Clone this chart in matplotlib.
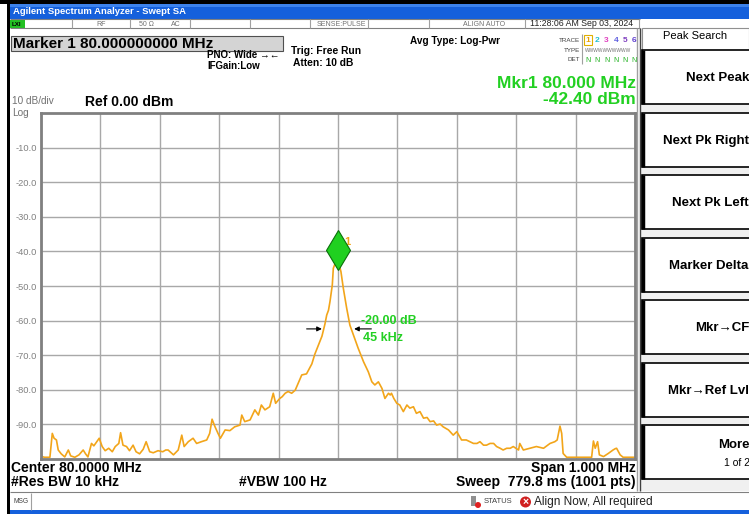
import matplotlib
matplotlib.use("Agg")
import matplotlib.pyplot as plt
from matplotlib.patches import Rectangle, Circle
from matplotlib import transforms
import numpy as np

plt.rcParams['font.family'] = ['Liberation Sans', 'DejaVu Sans']

# ---------------- data ----------------
center_mhz = 80.0
span_mhz = 1.0
ref_level = 0.0
db_per_div = 10.0
ytick_values = [-10, -20, -30, -40, -50, -60, -70, -80, -90]
ytick_labels = ["-10.0", "-20.0", "-30.0", "-40.0", "-50.0", "-60.0", "-70.0", "-80.0", "-90.0"]

offset_khz = [-500, -499, -494, -485, -481, -478, -474, -471, -466, -460, -454, -450, -443, -436,
              -429, -425, -421, -415, -411, -406, -402, -397, -392, -386, -380, -375, -369, -366,
              -362, -356, -351, -345, -340, -334, -328, -323, -317, -311, -303, -295, -290, -286,
              -277, -269, -263, -259, -252, -244, -238, -230, -221, -216, -212, -207, -202, -198,
              -190, -182, -174, -165, -162, -157, -148, -140, -134, -129, -123, -115, -109, -105,
              -98, -94, -89, -84, -78, -72, -67, -61, -53, -47, -44, -39, -33, -27, -22, -19, -16,
              -13.5, -9.6, -7.9, -3, 0, 5, 9, 14.6, 20, 26, 34, 43, 51, 57, 62, 68, 74, 79, 85, 88,
              90, 94, 99, 104, 110, 116, 121, 127, 132, 138, 144, 150, 155, 161, 166, 172, 177, 186,
              194, 200, 208, 216, 222, 228, 234, 239, 245, 250, 256, 262, 267, 273, 278, 284, 290,
              295, 304, 306, 312, 323, 334, 346, 357, 365, 369, 373.7, 376.6, 379, 385, 396, 413,
              427, 430, 433, 437, 440, 447, 455, 463, 467, 469, 475, 480, 497, 500]
level_dbm = [-93.5, -99.3, -99.5, -99.5, -92.6, -94.0, -94.5, -97.4, -98.5, -99.4, -97.4, -99.1, -99.5, -98.8,
             -97.4, -98.5, -99.4, -95.5, -96.2, -95.0, -94.0, -96.4, -97.6, -96.9, -97.9, -96.4, -95.5, -92.4,
             -96.0, -96.4, -97.6, -96.0, -97.9, -98.5, -97.2, -95.0, -97.9, -98.2, -97.6, -97.9, -97.4, -97.4,
             -98.8, -97.4, -93.1, -96.4, -95.0, -94.0, -95.5, -95.0, -94.5, -92.6, -88.5, -90.7, -92.6, -94.0,
             -91.6, -91.8, -90.7, -90.2, -87.3, -89.2, -88.7, -85.8, -87.3, -84.4, -85.8, -84.9, -81.0, -83.9,
             -82.5, -82.0, -81.0, -80.5, -81.0, -80.1, -78.1, -75.7, -75.4, -73.5, -72.5, -69.7, -67.1, -64.5,
             -61.0, -58.4, -57.0,
             -54.5, -49.7, -44.9, -42.6, -42.4, -45.9, -50.7, -56.4, -61.3, -64.2, -68.0, -71.9, -74.8, -77.7,
             -78.6, -77.7, -79.6, -82.5, -81.0, -81.5,
             -81.0, -82.5, -83.9, -84.4, -86.3, -84.4, -85.3, -84.9, -86.8, -86.3, -88.2, -88.0, -89.2, -89.0,
             -90.2, -89.9, -90.7, -91.6,
             -93.1, -92.1, -94.5, -94.5, -95.0, -95.5, -95.5, -95.0, -96.0, -96.0, -95.5, -95.5, -96.4, -96.9,
             -97.4, -96.9, -96.9,
             -96.4, -97.4, -95.5, -97.4, -96.9, -96.4, -96.9, -95.5, -95.0, -94.5, -90.5, -92.6, -98.4, -99.5,
             -99.5, -99.5,
             -99.5, -94.8, -96.9, -95.0, -98.8, -99.3, -98.4, -97.4, -97.0, -96.9, -98.8, -99.5, -99.5, -99.5]

marker_freq_mhz = 80.0
marker_level = -42.40
ndb = -20.00
ndb_bw_khz = 45

freq_mhz = [center_mhz + k / 1000.0 for k in offset_khz]

# ---------------- figure ----------------
W, H = 749, 514
fig = plt.figure(figsize=(W / 100, H / 100), dpi=100)
fig.patch.set_facecolor('white')

bg = fig.add_axes([0, 0, 1, 1])
bg.set_xlim(0, W)
bg.set_ylim(H, 0)
bg.axis('off')


def T(x, y, s, size=7, weight='bold', color='black', ha='left', va='center', **kw):
    bg.text(x, y, s, fontsize=size, fontweight=weight, color=color, ha=ha, va=va, **kw)


def R(x, y, w, h, fc='none', ec='none', lw=1.0, z=1):
    bg.add_patch(Rectangle((x, y), w, h, facecolor=fc, edgecolor=ec, linewidth=lw, zorder=z))


def L(x0, y0, x1, y1, c='black', lw=1.0, z=2):
    bg.plot([x0, x1], [y0, y1], color=c, linewidth=lw, zorder=z, solid_capstyle='butt')


# top black band & title bar
R(0, 0, W, 4, fc='black')
R(9, 4, W - 9, 15, fc='#1560DC')
R(9, 4, W - 9, 3, fc='#3C82EC')
T(13, 12, "Agilent Spectrum Analyzer - Swept SA", size=6.8, color='white')
# left black border
R(7, 4, 3, H - 4, fc='black', z=5)
# bottom blue line
R(9, 510, W - 9, 4, fc='#1560DC')

# status row
L(10, 19, 640, 19, c='#808080', lw=0.8)
L(10, 28, 640, 28, c='#808080', lw=0.8)
R(10, 19.5, 15, 8, fc='#22C022')
T(12, 24, "LXI", size=4.5, color='black')
for xd in [72, 130, 190, 250, 310, 368, 429, 525, 639]:
    L(xd, 19, xd, 28, c='#A0A0A0', lw=0.8)
T(101, 24, "RF", size=5, weight='normal', color='#707070', ha='center')
T(146, 24, "50 \u03a9", size=5, weight='normal', color='#707070', ha='center')
T(176, 24, "AC", size=5, weight='normal', color='#707070', ha='center')
T(366, 24, "SENSE:PULSE", size=5, weight='normal', color='#707070', ha='right')
T(505, 24, "ALIGN AUTO", size=5, weight='normal', color='#707070', ha='right')
T(633, 24, "11:28:06 AM Sep 03, 2024", size=6.3, weight='normal', color='#202020', ha='right')

# Marker box
R(11, 36, 272, 15, fc='#D4D4D4', ec='#505050', lw=0.8)
T(13, 43.5, "Marker 1 80.000000000 MHz", size=11)

T(207, 55, "PNO: Wide \u2192\u2190", size=7)
T(207, 66, "IFGain:Low", size=7)
T(291, 51, "Trig: Free Run", size=7.4)
T(293, 63, "Atten: 10 dB", size=7.4)
T(410, 41, "Avg Type: Log-Pwr", size=7.2)

# trace table
T(580, 40, "TRACE", size=4.5, weight='normal', color='#404040', ha='right')
T(580, 50, "TYPE", size=4.5, weight='normal', color='#404040', ha='right')
T(580, 59.5, "DET", size=4.5, weight='normal', color='#404040', ha='right')
L(582, 34, 582, 64, c='#A0A0A0', lw=0.8)
R(584, 35, 8, 10, fc='none', ec='#E0B000', lw=0.8)
tr_colors = ['#E8A000', '#20C0D0', '#E040C0', '#6060E0', '#8040C0', '#6040D0']
for i in range(6):
    T(588 + i * 9.3, 41, str(i + 1), size=6, color=tr_colors[i], ha='center')
    T(588 + i * 9.3, 60, "N", size=5, weight='normal', color='#20B020', ha='center')
T(585, 50, "WWWWWWWWWW", size=3.5, weight='normal', color='#707070')

# marker readout
T(636, 83, "Mkr1 80.000 MHz", size=12.5, color='#22D022', ha='right')
T(636, 99, "-42.40 dBm", size=12.5, color='#22D022', ha='right')

T(12, 101.5, "10 dB/div", size=7.2, weight='normal', color='#707070')
T(12, 113, "Log", size=7.2, weight='normal', color='#707070')
T(85, 101.5, "Ref 0.00 dBm", size=10)

# bottom texts
T(11, 468, "Center 80.0000 MHz", size=10)
T(636, 468, "Span 1.000 MHz", size=10, ha='right')
T(11, 482, "#Res BW 10 kHz", size=10)
T(239, 482, "#VBW 100 Hz", size=10)
T(636, 482, "Sweep  779.8 ms (1001 pts)", size=10, ha='right')

# MSG bar
L(10, 492, W, 492, c='#808080', lw=0.8)
T(13, 501.5, "MSG", size=4.8, weight='normal', color='#404040')
L(31, 493, 31, 510, c='#A0A0A0', lw=0.8)
R(471, 496, 5, 10, fc='#909090')
bg.add_patch(Circle((478, 505), 3, facecolor='#E02020', edgecolor='none', zorder=3))
T(484, 501.5, "STATUS", size=5.5, weight='normal', color='#404040')
bg.add_patch(Circle((525.5, 502), 5.5, facecolor='#D02020', edgecolor='none', zorder=3))
T(525.5, 502, "\u00d7", size=7.5, color='white', ha='center')
T(534, 502, "Align Now, All required", size=8.6, weight='normal', color='#202020')

# right panel
L(637, 28, 637, 491, c='#A0A0A0', lw=1.0)
L(640, 28, 640, 491, c='#404040', lw=1.0)
R(641, 28, W - 641, 463, fc='#F0F0F0')
R(642, 28, W - 642, 22, fc='white', ec='#909090', lw=0.8)
T(663, 36, "Peak Search", size=8, weight='normal')
btn_tops = [50, 113, 175, 238, 300, 363, 425]
btn_labels = ["Next Peak", "Next Pk Right", "Next Pk Left", "Marker Delta", "Mkr\u2192CF", "Mkr\u2192Ref Lvl", "More"]
btn_x = [686, 663, 672, 669, 695, 668, 718]
for top, lab, bx in zip(btn_tops, btn_labels, btn_x):
    R(642, top, W - 642 + 5, 54, fc='white', ec='black', lw=1.2, z=2)
    L(643, top, 643, top + 54, c='black', lw=2.5, z=3)
    if lab == "More":
        T(bx, top + 20, lab, size=9.5)
        T(724, top + 38, "1 of 2", size=7.5, weight='normal')
    else:
        T(bx, top + 28, lab, size=9.5)

# ---------------- plot axes ----------------
x0, x1, y0, y1 = 41, 635, 113, 459
ax = fig.add_axes([x0 / W, 1 - y1 / H, (x1 - x0) / W, (y1 - y0) / H])
ax.set_facecolor('white')
ax.set_xlim(center_mhz - span_mhz / 2, center_mhz + span_mhz / 2)
ax.set_ylim(ref_level - 10 * db_per_div, ref_level)
ax.set_xticks(np.arange(center_mhz - span_mhz / 2, center_mhz + span_mhz / 2 + 1e-9, span_mhz / 10))
ax.set_yticks(ytick_values)
ax.set_yticklabels(ytick_labels)
ax.tick_params(axis='x', length=0, labelbottom=False)
ax.tick_params(axis='y', length=0, pad=3, labelsize=6.7, labelcolor='#808080')
ax.grid(True, color='#A8A8A8', linewidth=1.0)
for s in ax.spines.values():
    s.set_color('#808080')
    s.set_linewidth(2)

ax.plot(freq_mhz, level_dbm, color='#F2A51A', linewidth=1.2, clip_on=True)

# marker diamond
mk_tr = transforms.offset_copy(ax.transData, fig=fig, x=0, y=10, units='dots')
ax.plot([marker_freq_mhz], [marker_level], marker='d', markersize=20, markerfacecolor='#20D020',
        markeredgecolor='#0A700A', markeredgewidth=0.8, transform=mk_tr, zorder=5)
ax.annotate("1", xy=(marker_freq_mhz, marker_level), xytext=(6, 18), textcoords='offset pixels',
            fontsize=8, fontweight='bold', color='#F2A51A', ha='left', va='center')

# n dB markers
ndb_level = marker_level + ndb
half_bw = ndb_bw_khz / 2000.0
ax.annotate("", xy=(marker_freq_mhz - half_bw, ndb_level), xytext=(-18, 0), textcoords='offset pixels',
            arrowprops=dict(arrowstyle='-|>', color='black', lw=0.8, mutation_scale=7, shrinkA=0, shrinkB=2))
ax.annotate("", xy=(marker_freq_mhz + half_bw, ndb_level), xytext=(20, 0), textcoords='offset pixels',
            arrowprops=dict(arrowstyle='-|>', color='black', lw=0.8, mutation_scale=7, shrinkA=0, shrinkB=2))
ax.annotate(f"{ndb:.2f} dB", xy=(marker_freq_mhz + half_bw, ndb_level), xytext=(10, 8),
            textcoords='offset pixels', fontsize=9, fontweight='bold', color='#22D022', va='center')
ax.annotate(f"{ndb_bw_khz} kHz", xy=(marker_freq_mhz + half_bw, ndb_level), xytext=(12, -9),
            textcoords='offset pixels', fontsize=9, fontweight='bold', color='#22D022', va='center')

fig.savefig("out.png", dpi=100)
